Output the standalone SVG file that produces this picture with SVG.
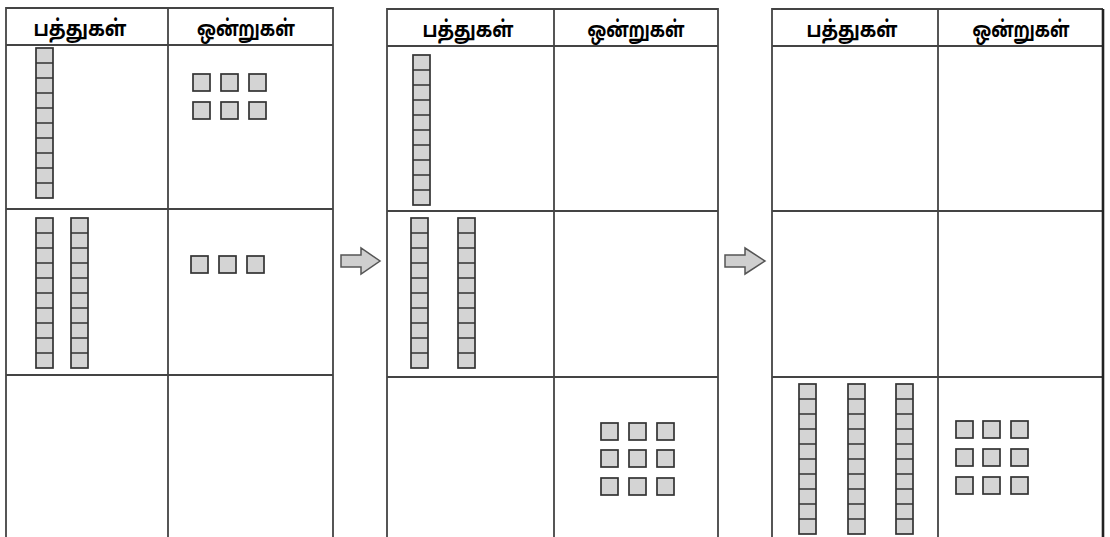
<svg xmlns="http://www.w3.org/2000/svg" xmlns:xlink="http://www.w3.org/1999/xlink" width="1110" height="537" viewBox="0 0 1110 537">
<style>
.grid{fill:none;stroke:#444;stroke-width:1.8}
.blk{fill:#d4d4d4;stroke:#333;stroke-width:1.7}
.ln{stroke:#333;stroke-width:1.7;fill:none}
.hd{font-family:"Noto Sans Tamil","Lohit Tamil","Noto Sans","DejaVu Sans",sans-serif;font-weight:bold;font-size:22px;fill:#000;text-anchor:middle}
.arr{fill:#cfcfcf;stroke:#555;stroke-width:1.5;stroke-linejoin:miter}
</style>
<defs>
<g id="rod"><rect x="0" y="0" width="17" height="150" class="blk"/><path class="ln" d="M0 15H17M0 30H17M0 45H17M0 60H17M0 75H17M0 90H17M0 105H17M0 120H17M0 135H17"/></g>
<rect id="cube" x="0" y="0" width="17" height="17" class="blk"/>
</defs>
<rect width="1110" height="537" fill="#fff"/>

<g id="table1">
<path class="grid" d="M6 537V8H333V537M168 8V537M6 45H333M6 209H333M6 375H333"/>
<text class="hd" x="80" y="36" textLength="93" lengthAdjust="spacingAndGlyphs">பத்துகள்</text>
<text class="hd" x="246" y="36" textLength="98" lengthAdjust="spacingAndGlyphs">ஒன்றுகள்</text>
<g id="t1-tens-r1"><use xlink:href="#rod" x="36" y="48"/></g>
<g id="t1-ones-r1">
<use xlink:href="#cube" x="193" y="74"/><use xlink:href="#cube" x="221" y="74"/><use xlink:href="#cube" x="249" y="74"/>
<use xlink:href="#cube" x="193" y="102"/><use xlink:href="#cube" x="221" y="102"/><use xlink:href="#cube" x="249" y="102"/>
</g>
<g id="t1-tens-r2"><use xlink:href="#rod" x="36" y="218"/><use xlink:href="#rod" x="71" y="218"/></g>
<g id="t1-ones-r2">
<use xlink:href="#cube" x="191" y="256"/><use xlink:href="#cube" x="219" y="256"/><use xlink:href="#cube" x="247" y="256"/>
</g>
</g>

<g id="table2">
<path class="grid" d="M387 537V9H718V537M554 9V537M387 46H718M387 211H718M387 377H718"/>
<text class="hd" x="468" y="37" textLength="91" lengthAdjust="spacingAndGlyphs">பத்துகள்</text>
<text class="hd" x="636" y="37" textLength="97" lengthAdjust="spacingAndGlyphs">ஒன்றுகள்</text>
<g id="t2-tens-r1"><use xlink:href="#rod" x="413" y="55"/></g>
<g id="t2-tens-r2"><use xlink:href="#rod" x="411" y="218"/><use xlink:href="#rod" x="458" y="218"/></g>
<g id="t2-ones-r3">
<use xlink:href="#cube" x="601" y="423"/><use xlink:href="#cube" x="629" y="423"/><use xlink:href="#cube" x="657" y="423"/>
<use xlink:href="#cube" x="601" y="450"/><use xlink:href="#cube" x="629" y="450"/><use xlink:href="#cube" x="657" y="450"/>
<use xlink:href="#cube" x="601" y="478"/><use xlink:href="#cube" x="629" y="478"/><use xlink:href="#cube" x="657" y="478"/>
</g>
</g>

<g id="table3">
<path class="grid" d="M772 537V9H1103M938 9V537M772 46H1103M772 211H1103M772 377H1103"/>
<path class="grid" d="M1103 9V537" style="stroke-width:2.6;stroke:#222"/>
<text class="hd" x="852" y="37" textLength="91" lengthAdjust="spacingAndGlyphs">பத்துகள்</text>
<text class="hd" x="1021" y="37" textLength="97" lengthAdjust="spacingAndGlyphs">ஒன்றுகள்</text>
<g id="t3-tens-r3"><use xlink:href="#rod" x="799" y="384"/><use xlink:href="#rod" x="848" y="384"/><use xlink:href="#rod" x="896" y="384"/></g>
<g id="t3-ones-r3">
<use xlink:href="#cube" x="956" y="421"/><use xlink:href="#cube" x="983" y="421"/><use xlink:href="#cube" x="1011" y="421"/>
<use xlink:href="#cube" x="956" y="449"/><use xlink:href="#cube" x="983" y="449"/><use xlink:href="#cube" x="1011" y="449"/>
<use xlink:href="#cube" x="956" y="477"/><use xlink:href="#cube" x="983" y="477"/><use xlink:href="#cube" x="1011" y="477"/>
</g>
</g>

<g id="connectors">
<path class="arr" d="M341 255H361V248L380 261L361 274V267H341Z"/>
<path class="arr" d="M725 255H745V248L765 261L745 274V267H725Z"/>
</g>
</svg>
